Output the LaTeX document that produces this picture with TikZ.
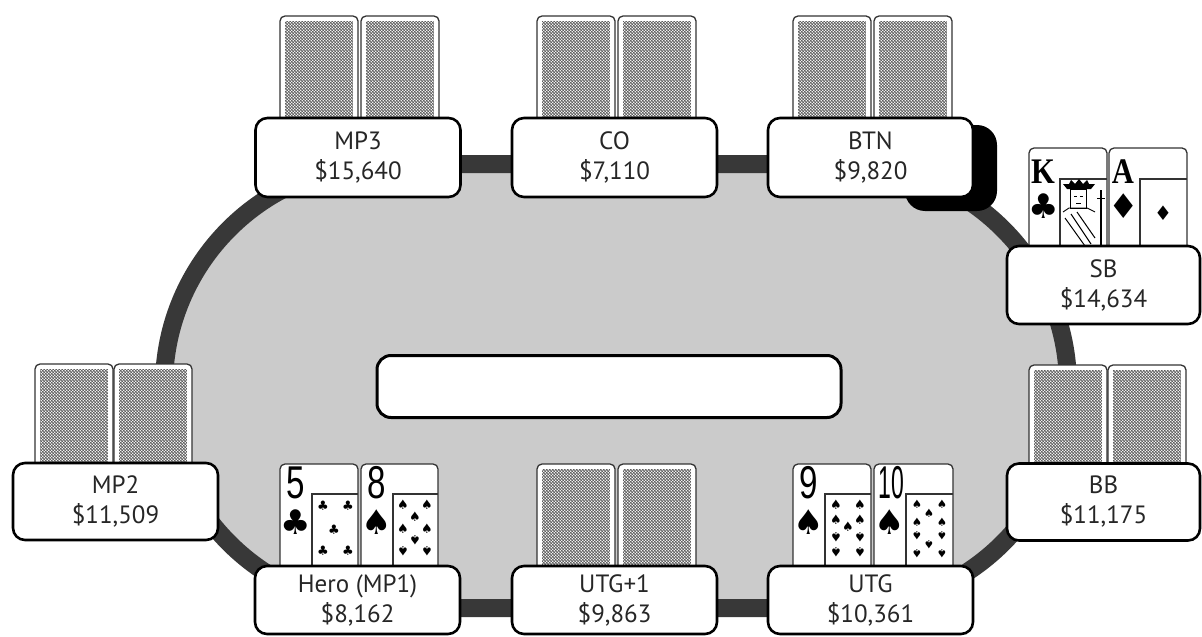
\documentclass[tikz,border=0pt]{standalone}
\usepackage{fontspec}
\setmainfont{PT Sans}
\newfontfamily\suitfont{DejaVu Sans}
\newfontfamily\rankfont{Liberation Sans}
\newfontfamily\courtfont{Liberation Serif}
\usetikzlibrary{patterns}
\definecolor{felt}{HTML}{CBCBCB}
\definecolor{rim}{HTML}{383838}
\definecolor{backdark}{HTML}{505050}
\pgfdeclarepatternformonly{cardback}{\pgfpoint{-0.1pt}{-0.1pt}}{\pgfpoint{3.1pt}{3.1pt}}{\pgfpoint{3pt}{3pt}}{%
  \pgfpathcircle{\pgfpoint{0.75pt}{0.75pt}}{0.85pt}%
  \pgfpathcircle{\pgfpoint{2.25pt}{2.25pt}}{0.85pt}%
  \pgfusepath{fill}}
\newcommand\cback[2]{%
  \draw[cardedge] (#1,#2) rectangle (#1+78,#2+112);
  \path[fill=backdark, postaction={pattern=cardback, pattern color=white}] (#1+5,#2+5) rectangle (#1+73,#2+110);}
\begin{document}
\begin{tikzpicture}[x=1pt,y=-1pt,
  pbox/.style={draw=black, line width=2.6pt, rounded corners=12pt, fill=white, align=center,
    font=\fontsize{25}{30}\selectfont, text=black!85, inner sep=0pt},
  cardedge/.style={draw=black!80, line width=1.3pt, rounded corners=5pt, fill=white},
  innerline/.style={draw=black!80, line width=1.2pt},
  rankstyle/.style={font=\rankfont\fontsize{46}{46}\selectfont, inner sep=0pt},
  courtstyle/.style={font=\courtfont\bfseries\fontsize{36}{36}\selectfont, inner sep=0pt},
  bigsuit/.style={font=\suitfont\fontsize{34}{34}\selectfont, inner sep=0pt},
  pip/.style={font=\suitfont\fontsize{13}{13}\selectfont, inner sep=0pt},
  smallpip/.style={font=\suitfont\fontsize{11.5}{11.5}\selectfont, inner sep=0pt}]
\useasboundingbox (0,0) rectangle (1202,637);
% table
\path[fill=felt, draw=rim, line width=18pt] (386,164) -- (846,164) arc(-90:90:222) -- (386,608) arc(90:270:222) -- cycle;
% dealer button
\fill[black, rounded corners=20pt] (905,125) rectangle (997,211);
% center board
\node[draw=black, line width=3pt, rounded corners=14pt, fill=white, minimum width=464pt, minimum height=62pt, inner sep=0pt] (board) at (609,386.5) {};
% card backs
\cback{280}{16}\cback{361}{16}
\cback{537}{16}\cback{618}{16}
\cback{793}{16}\cback{874}{16}
\cback{35}{364}\cback{114}{364}
\cback{1029}{365}\cback{1108}{365}
\cback{537}{464}\cback{618}{464}
% Hero 5 clubs
\begin{scope}[shift={(280,464)}]
  \draw[cardedge] (0,0) rectangle (78,112);
  \draw[innerline] (32,112) -- (32,30) -- (78,30);
  \node[rankstyle] (r5) at (16,19) {\scalebox{0.72}[1]{5}};
  \node[bigsuit] (s5) at (16,58) {♣};
  \foreach \u/\v in {11/12, 36/12, 22/36, 11/57, 36/57} \node[pip] at (32+\u,30+\v) {♣};
\end{scope}
% Hero 8 spades
\begin{scope}[shift={(361,464)}]
  \draw[cardedge] (0,0) rectangle (77,112);
  \draw[innerline] (32,112) -- (32,30) -- (77,30);
  \node[rankstyle] (r8) at (16,19) {\scalebox{0.72}[1]{8}};
  \node[bigsuit] (s8) at (16,58) {♠};
  \foreach \u/\v in {10/11, 34/11, 22/23, 10/35, 34/35} \node[pip] at (32+\u,30+\v) {♠};
  \foreach \u/\v in {22/46, 10/57, 34/57} \node[pip, rotate=180] at (32+\u,30+\v) {♠};
\end{scope}
% UTG 9 spades
\begin{scope}[shift={(793,464)}]
  \draw[cardedge] (0,0) rectangle (78,112);
  \draw[innerline] (32,112) -- (32,30) -- (78,30);
  \node[rankstyle] (r9) at (16,19) {\scalebox{0.72}[1]{9}};
  \node[bigsuit] (s9) at (16,58) {♠};
  \foreach \u/\v in {11/11, 35/11, 11/26, 35/26, 23/33} \node[pip] at (32+\u,30+\v) {♠};
  \foreach \u/\v in {11/43, 35/43, 11/58, 35/58} \node[pip, rotate=180] at (32+\u,30+\v) {♠};
\end{scope}
% UTG 10 spades
\begin{scope}[shift={(874,464)}]
  \draw[cardedge] (0,0) rectangle (79,112);
  \draw[innerline] (32,112) -- (32,30) -- (79,30);
  \node[rankstyle] (r10) at (17,19) {\scalebox{0.5}[1]{10}};
  \node[bigsuit] (s10) at (16,58) {♠};
  \foreach \u/\v in {11/10, 36/10, 23/19, 11/28, 36/28} \node[smallpip] at (32+\u,30+\v) {♠};
  \foreach \u/\v in {11/42, 36/42, 23/51, 11/60, 36/60} \node[smallpip, rotate=180] at (32+\u,30+\v) {♠};
\end{scope}
% SB King of clubs
\begin{scope}[shift={(1029,148)}]
  \draw[cardedge] (0,0) rectangle (78,110);
  \draw[innerline] (31,110) -- (31,31) -- (78,31);
  \node[courtstyle] (rk) at (14,24) {\scalebox{0.85}[1]{K}};
  \node[bigsuit] (sk) at (15,58) {♣};
  % simplified king figure
  \fill[black] (34,36) -- (66,36) -- (62,41) -- (38,41) -- cycle;
  \fill[black] (40,36) -- (42,32) -- (46,36) -- (50,31) -- (54,36) -- (58,32) -- (60,36) -- cycle;
  \draw[line width=0.9pt] (41,41) rectangle (57,60);
  \draw[line width=0.8pt] (45,48) -- (48,48) (51,48) -- (54,48) (47,55) -- (52,55);
  \draw[line width=0.9pt] (34,64) -- (40,60) -- (58,60) -- (66,64);
  \draw[line width=1pt] (36,70) -- (56,98) (42,66) -- (62,96) (48,64) -- (66,90);
  \draw[line width=1.6pt] (72,42) -- (72,98);
  \draw[line width=0.9pt] (68,50) -- (76,50);
\end{scope}
% SB Ace of diamonds
\begin{scope}[shift={(1109,148)}]
  \draw[cardedge] (0,0) rectangle (78,110);
  \draw[innerline] (31,110) -- (31,31) -- (78,31);
  \node[courtstyle] (ra) at (14,24) {\scalebox{0.85}[1]{A}};
  \node[bigsuit] (sa) at (15,58) {♦};
  \node[font=\suitfont\fontsize{20}{20}\selectfont, inner sep=0pt] (pa) at (54,65) {♦};
\end{scope}
% player boxes
\node[pbox, minimum width=205pt, minimum height=79pt] (mp3) at (358,157.5) {MP3\\\$15,640};
\node[pbox, minimum width=205pt, minimum height=79pt] (co) at (614.5,157.5) {CO\\\$7,110};
\node[pbox, minimum width=205pt, minimum height=79pt] (btn) at (870.5,157.5) {BTN\\\$9,820};
\node[pbox, minimum width=193pt, minimum height=78pt] (sb) at (1103.5,285) {SB\\\$14,634};
\node[pbox, minimum width=205pt, minimum height=77pt] (mp2) at (115.5,501.5) {MP2\\\$11,509};
\node[pbox, minimum width=193pt, minimum height=77pt] (bb) at (1103.5,502) {BB\\\$11,175};
\node[pbox, minimum width=205pt, minimum height=68pt] (hero) at (357.5,600) {Hero (MP1)\\\$8,162};
\node[pbox, minimum width=205pt, minimum height=68pt] (utg1) at (614.5,600) {UTG+1\\\$9,863};
\node[pbox, minimum width=205pt, minimum height=68pt] (utg) at (870.5,600) {UTG\\\$10,361};
\end{tikzpicture}
\end{document}
